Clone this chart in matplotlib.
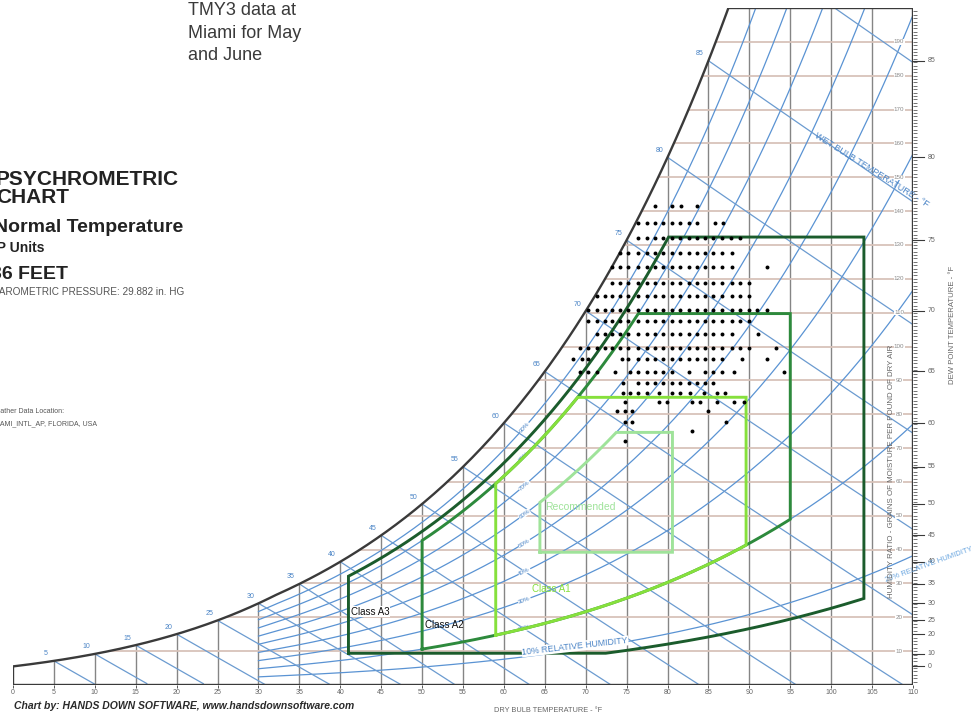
import numpy as np
import matplotlib.pyplot as plt
from matplotlib.patches import Polygon

plt.rcParams['font.family'] = ['Liberation Sans', 'DejaVu Sans']

# ============================================================
# CONFIGURAÇÕES
# ============================================================
FIG_W, FIG_H = 974, 719
P_ATM = 29.882 * 0.491154          # psia (29.882 in. HG)

DRY_BULB_GRID = list(range(0, 111, 5))
GRAIN_GRID = list(range(10, 200, 10))
RH_CURVES = [10, 20, 30, 40, 50, 60, 70, 80, 90]
RH_LABELS = [20, 30, 40, 50, 60, 70, 80, 90]
WET_BULB_LINES = list(range(5, 91, 5))
WET_BULB_LABELS = list(range(5, 86, 5))
DEW_POINT_TICKS = [0, 10, 20, 25, 30, 35, 40, 45, 50, 55, 60, 65, 70, 75, 80, 85]

# envelopes ASHRAE (°F, %RH, °F dew point)
CLASS_NAMES = ["Recommended", "Class A1", "Class A2", "Class A3"]
CLASS_DB_MIN = [64.4, 59.0, 50.0, 41.0]
CLASS_DB_MAX = [80.6, 89.6, 95.0, 104.0]
CLASS_RH_MIN = [0, 20, 20, 8]
CLASS_RH_MAX = [60, 80, 80, 85]
CLASS_DP_MIN = [41.9, None, None, 10.4]
CLASS_DP_MAX = [59.0, 62.6, 69.8, 75.2]
CLASS_COLORS = ["#9fe39a", "#86e03c", "#2d8a3c", "#1b5c2c"]

# TMY3 Miami, maio e junho: umidade (grains/lb) por linha e temperaturas (°F)
dot_grains = [141.4, 136.4, 132.0, 127.5, 123.4, 118.9, 114.8, 110.9, 107.4, 103.6,
              99.7, 96.4, 92.6, 89.3, 86.4, 83.7, 80.8, 77.8, 75.1, 72.2]
dot_temps = [
    [78.5, 80.5, 81.7, 83.6],
    [76.4, 77.5, 78.5, 79.5, 80.5, 81.5, 82.6, 83.6, 85.8, 86.8],
    [76.4, 77.5, 78.5, 79.5, 80.5, 81.5, 82.6, 83.6, 84.6, 85.6, 86.6, 87.7, 88.9],
    [74.2, 75.2, 76.4, 77.5, 78.5, 79.5, 80.5, 81.5, 82.6, 83.6, 84.6, 85.6, 86.6, 87.9],
    [73.2, 74.2, 75.2, 76.4, 77.5, 78.5, 79.5, 80.5, 81.5, 82.6, 83.6, 84.6, 85.6, 86.6, 87.9, 92.1],
    [73.2, 74.2, 75.2, 76.4, 77.5, 78.5, 79.5, 80.5, 81.5, 82.6, 83.6, 84.6, 85.6, 86.6, 87.9, 88.9, 89.9],
    [71.4, 72.4, 73.2, 74.2, 75.2, 76.4, 77.5, 78.5, 79.5, 80.5, 81.5, 82.6, 83.6, 84.6, 85.6, 86.6,
     87.9, 88.9, 89.9],
    [70.3, 71.4, 72.4, 73.2, 74.2, 75.2, 76.4, 77.5, 78.5, 79.5, 80.5, 81.5, 82.6, 83.6, 84.6, 85.6,
     86.6, 87.9, 88.9, 89.9, 90.9, 92.1],
    [70.3, 71.4, 72.4, 73.2, 74.2, 75.2, 76.4, 77.5, 78.5, 79.5, 80.5, 81.5, 82.6, 83.6, 84.6, 85.6,
     86.6, 87.9, 88.9, 89.9],
    [71.4, 72.4, 73.2, 74.2, 75.2, 76.4, 77.5, 78.5, 79.5, 80.5, 81.5, 82.6, 83.6, 84.6, 85.6, 86.6,
     87.9, 91.1],
    [69.3, 70.3, 71.4, 72.4, 73.2, 74.2, 75.2, 76.4, 77.5, 78.5, 79.5, 80.5, 81.5, 82.6, 83.6, 84.6,
     85.6, 86.6, 87.9, 88.9, 89.9, 93.2],
    [68.5, 69.5, 70.3, 74.4, 75.2, 76.4, 77.5, 78.5, 79.5, 80.5, 81.5, 82.6, 83.6, 84.6, 85.6, 86.6,
     89.1, 92.1],
    [69.3, 70.3, 71.4, 73.6, 75.4, 76.4, 77.5, 78.5, 79.5, 80.5, 82.6, 84.6, 85.6, 86.6, 88.1, 94.2],
    [74.6, 76.4, 77.5, 78.5, 79.5, 80.5, 81.5, 82.6, 83.6, 84.6, 85.6],
    [74.6, 75.4, 76.4, 77.5, 78.9, 80.5, 81.5, 82.8, 84.4, 86.0, 87.0],
    [74.8, 78.9, 79.9, 83.0, 84.0, 86.0, 88.1, 89.3],
    [73.8, 74.8, 75.6, 85.0],
    [74.8, 75.6, 87.2],
    [83.0],
    [74.8],
]

FRAME = "#3a3a3a"
BLUE = "#5a93d3"
BLUE_TXT = "#4a84c6"
GRAY_TXT = "#666666"


# ============================================================
# PSICROMETRIA
# ============================================================
def sat_press(t_f):
    t_f = np.asarray(t_f, dtype=float)
    t = t_f + 459.67
    liq = np.exp(-1.0440397e4 / t - 1.1294650e1 - 2.7022355e-2 * t + 1.2890360e-5 * t ** 2
                 - 2.4780681e-9 * t ** 3 + 6.5459673 * np.log(t))
    ice = np.exp(-1.0214165e4 / t - 4.8932428 - 5.3765794e-3 * t + 1.9202377e-7 * t ** 2
                 + 3.5575832e-10 * t ** 3 - 9.0344688e-14 * t ** 4 + 4.1635019 * np.log(t))
    return np.where(t_f >= 32, liq, ice)


def grains(t_f, rh):
    pw = rh * sat_press(t_f)
    return 7000 * 0.621945 * pw / (P_ATM - pw)


_tt = np.linspace(-20, 140, 16001)
_gg = grains(_tt, 1.0)


def t_sat(g):
    return np.interp(g, _gg, _tt)


def wet_bulb_grains(t, twb):
    ws = grains(twb, 1.0) / 7000
    if twb >= 32:
        w = ((1093 - 0.556 * twb) * ws - 0.240 * (t - twb)) / (1093 + 0.444 * t - twb)
    else:
        w = ((1220 - 0.04 * twb) * ws - 0.240 * (t - twb)) / (1220 + 0.444 * t - 0.48 * twb)
    return 7000 * w


def fx(px):
    return px / FIG_W


def fy(py):
    return 1 - py / FIG_H


# ============================================================
# FIGURA
# ============================================================
fig = plt.figure(figsize=(FIG_W / 100, FIG_H / 100), dpi=100)
ax = fig.add_axes([fx(13), 34 / FIG_H, 900 / FIG_W, 677 / FIG_H])
ax.set_xlim(0, 110)
ax.set_ylim(0, 200)
ax.axis("off")

t_top = float(t_sat(200))
sat_t = np.linspace(0, t_top, 300)
sat_g = grains(sat_t, 1.0)
outline = [(0, 0)] + list(zip(sat_t, sat_g)) + [(110, 200), (110, 0)]
clip = Polygon(outline, closed=True, facecolor="none", edgecolor="none", transform=ax.transData)
ax.add_patch(clip)


def clipped(lines):
    for ln in lines:
        ln.set_clip_path(clip)


# grade de temperatura seca e umidade
for t in DRY_BULB_GRID[1:-1]:
    clipped(ax.plot([t, t], [0, min(float(grains(t, 1.0)), 200)], color="#858585", lw=1.0, zorder=1))
for g in GRAIN_GRID:
    clipped(ax.plot([float(t_sat(g)), 110], [g, g], color="#d8c3ba", lw=1.3, zorder=1))

# umidade relativa
t_rh = np.linspace(30, 110, 400)
for rh in RH_CURVES:
    clipped(ax.plot(t_rh, grains(t_rh, rh / 100), color=BLUE, lw=0.9, zorder=2))

# bulbo úmido
for twb in WET_BULB_LINES:
    t_wb = np.linspace(twb, 110, 300)
    g_wb = wet_bulb_grains(t_wb, twb)
    keep = g_wb >= 0
    clipped(ax.plot(t_wb[keep], g_wb[keep], color="#6b9bd0", lw=0.9, zorder=2))

# contorno
ax.plot([0] + list(sat_t) + [110, 110, 0], [0] + list(sat_g) + [200, 0, 0],
        color=FRAME, lw=1.7, zorder=7, solid_joinstyle="miter")

# rótulos de bulbo úmido
for twb in WET_BULB_LABELS:
    ax.annotate(str(twb), (twb, float(grains(twb, 1.0))), xytext=(-6, 5), textcoords="offset points",
                fontsize=5, color=BLUE_TXT, ha="center", va="center", zorder=8)

# rótulos de UR
sx, sy = 8.18, 3.385
for rh in RH_LABELS:
    g0 = float(grains(62.5, rh / 100))
    slope = (float(grains(63.5, rh / 100)) - float(grains(61.5, rh / 100))) / 2
    ang = np.degrees(np.arctan(slope * sy / sx))
    ax.text(62.5, g0, f"{rh}%", fontsize=4.5, color=BLUE_TXT, rotation=ang, ha="center", va="center",
            rotation_mode="anchor", zorder=3,
            bbox=dict(facecolor="white", edgecolor="none", pad=0.2))

ax.text(68.7, 11.4, "10% RELATIVE HUMIDITY", fontsize=6.3, color=BLUE_TXT, rotation=6.5,
        ha="center", va="center", rotation_mode="anchor", zorder=9,
        bbox=dict(facecolor="white", edgecolor="none", pad=0.3))
ax.text(111.9, 35.5, "20% RELATIVE HUMIDITY", fontsize=5.5, color="#6aa6e0", rotation=20,
        ha="center", va="center", rotation_mode="anchor", zorder=9, clip_on=False)
ax.text(105.0, 152, "WET BULB TEMPERATURE - °F", fontsize=6.5, color=BLUE_TXT, rotation=-32,
        ha="center", va="center", rotation_mode="anchor", zorder=9, clip_on=False)

# escalas à direita
for g in GRAIN_GRID:
    ax.text(108.3, g, str(g), fontsize=4.5, color="#8a8a8a", ha="center", va="center", zorder=8,
            bbox=dict(facecolor="white", edgecolor="none", pad=0.2))
ax.hlines(np.arange(1, 200), 110, 110.5, color=FRAME, lw=0.5, clip_on=False)
for dp in DEW_POINT_TICKS:
    g = float(grains(dp, 1.0))
    ax.plot([110, 111.4], [g, g], color=FRAME, lw=0.8, clip_on=False)
    ax.text(111.8, g, str(dp), fontsize=5, color=GRAY_TXT, ha="left", va="center", clip_on=False)

ax.text(107.4, 63, "HUMIDITY RATIO - GRAINS OF MOISTURE PER POUND OF DRY AIR", fontsize=5.7,
        color=GRAY_TXT, rotation=90, ha="center", va="center", zorder=9)
fig.text(fx(953), fy(325), "DEW POINT TEMPERATURE - °F", fontsize=5.6, color=GRAY_TXT,
         rotation=90, ha="center", va="center")

# escala inferior
ax.vlines(DRY_BULB_GRID, -0.9, 0, color=FRAME, lw=0.6, clip_on=False)
for t in DRY_BULB_GRID:
    ax.text(t, -2.2, str(t), fontsize=5, color=GRAY_TXT, ha="center", va="center", clip_on=False)
fig.text(fx(548), fy(711), "DRY BULB TEMPERATURE - °F", fontsize=5.3, color=GRAY_TXT,
         ha="center", va="center")
fig.text(fx(14), fy(706), "Chart by: HANDS DOWN SOFTWARE, www.handsdownsoftware.com", fontsize=7.5,
         fontweight="bold", fontstyle="italic", color="#2a2a2a", ha="left", va="center")

# envelopes ASHRAE
for i in [3, 2, 1, 0]:
    t_env = np.linspace(CLASS_DB_MIN[i], CLASS_DB_MAX[i], 600)
    lower = grains(t_env, CLASS_RH_MIN[i] / 100)
    if CLASS_DP_MIN[i] is not None:
        lower = np.maximum(lower, float(grains(CLASS_DP_MIN[i], 1.0)))
    upper = np.minimum(grains(t_env, CLASS_RH_MAX[i] / 100), float(grains(CLASS_DP_MAX[i], 1.0)))
    xs = np.concatenate([t_env, t_env[::-1], t_env[:1]])
    ys = np.concatenate([lower, upper[::-1], lower[:1]])
    ax.plot(xs, ys, color=CLASS_COLORS[i], lw=2.1, zorder=4, solid_joinstyle="miter")

ax.text(41.3, 21.6, "Class A3", fontsize=7, color="#111111", ha="left", va="center", zorder=9,
        bbox=dict(facecolor="white", edgecolor="none", pad=0.4))
ax.text(50.4, 17.8, "Class A2", fontsize=7, color="#111111", ha="left", va="center", zorder=9)
ax.text(63.4, 28.3, "Class A1", fontsize=7, color=CLASS_COLORS[1], ha="left", va="center", zorder=9)
ax.text(65.0, 52.5, "Recommended", fontsize=7.5, color=CLASS_COLORS[0], ha="left", va="center", zorder=9)

# pontos TMY3
for g, temps in zip(dot_grains, dot_temps):
    ax.scatter(temps, [g] * len(temps), s=8, color="black", zorder=10, linewidths=0)

# ============================================================
# TEXTOS À ESQUERDA
# ============================================================
fig.text(fx(-4), fy(203), "PSYCHROMETRIC\nCHART", fontsize=15, fontweight="bold", color="#222222",
         linespacing=0.92, va="baseline")
fig.text(fx(-6), fy(232), "Normal Temperature", fontsize=14, fontweight="bold", color="#222222")
fig.text(fx(-7), fy(252), "IP Units", fontsize=10, fontweight="bold", color="#222222")
fig.text(fx(-9), fy(279), "36 FEET", fontsize=14, fontweight="bold", color="#222222")
fig.text(fx(-8), fy(295), "BAROMETRIC PRESSURE: 29.882 in. HG", fontsize=7.2, color="#555555")
fig.text(fx(-10), fy(413), "Weather Data Location:", fontsize=5, color="#555555")
fig.text(fx(-8), fy(425), "MIAMI_INTL_AP, FLORIDA, USA", fontsize=5, color="#555555")

fig.text(fx(188), fy(15), "TMY3 data at", fontsize=13, color="#3a3a3a", va="baseline")
fig.text(fx(188), fy(38), "Miami for May", fontsize=13, color="#3a3a3a", va="baseline")
fig.text(fx(188), fy(60), "and June", fontsize=13, color="#3a3a3a", va="baseline")

fig.savefig("out.png", dpi=100, facecolor="white")
plt.close(fig)
